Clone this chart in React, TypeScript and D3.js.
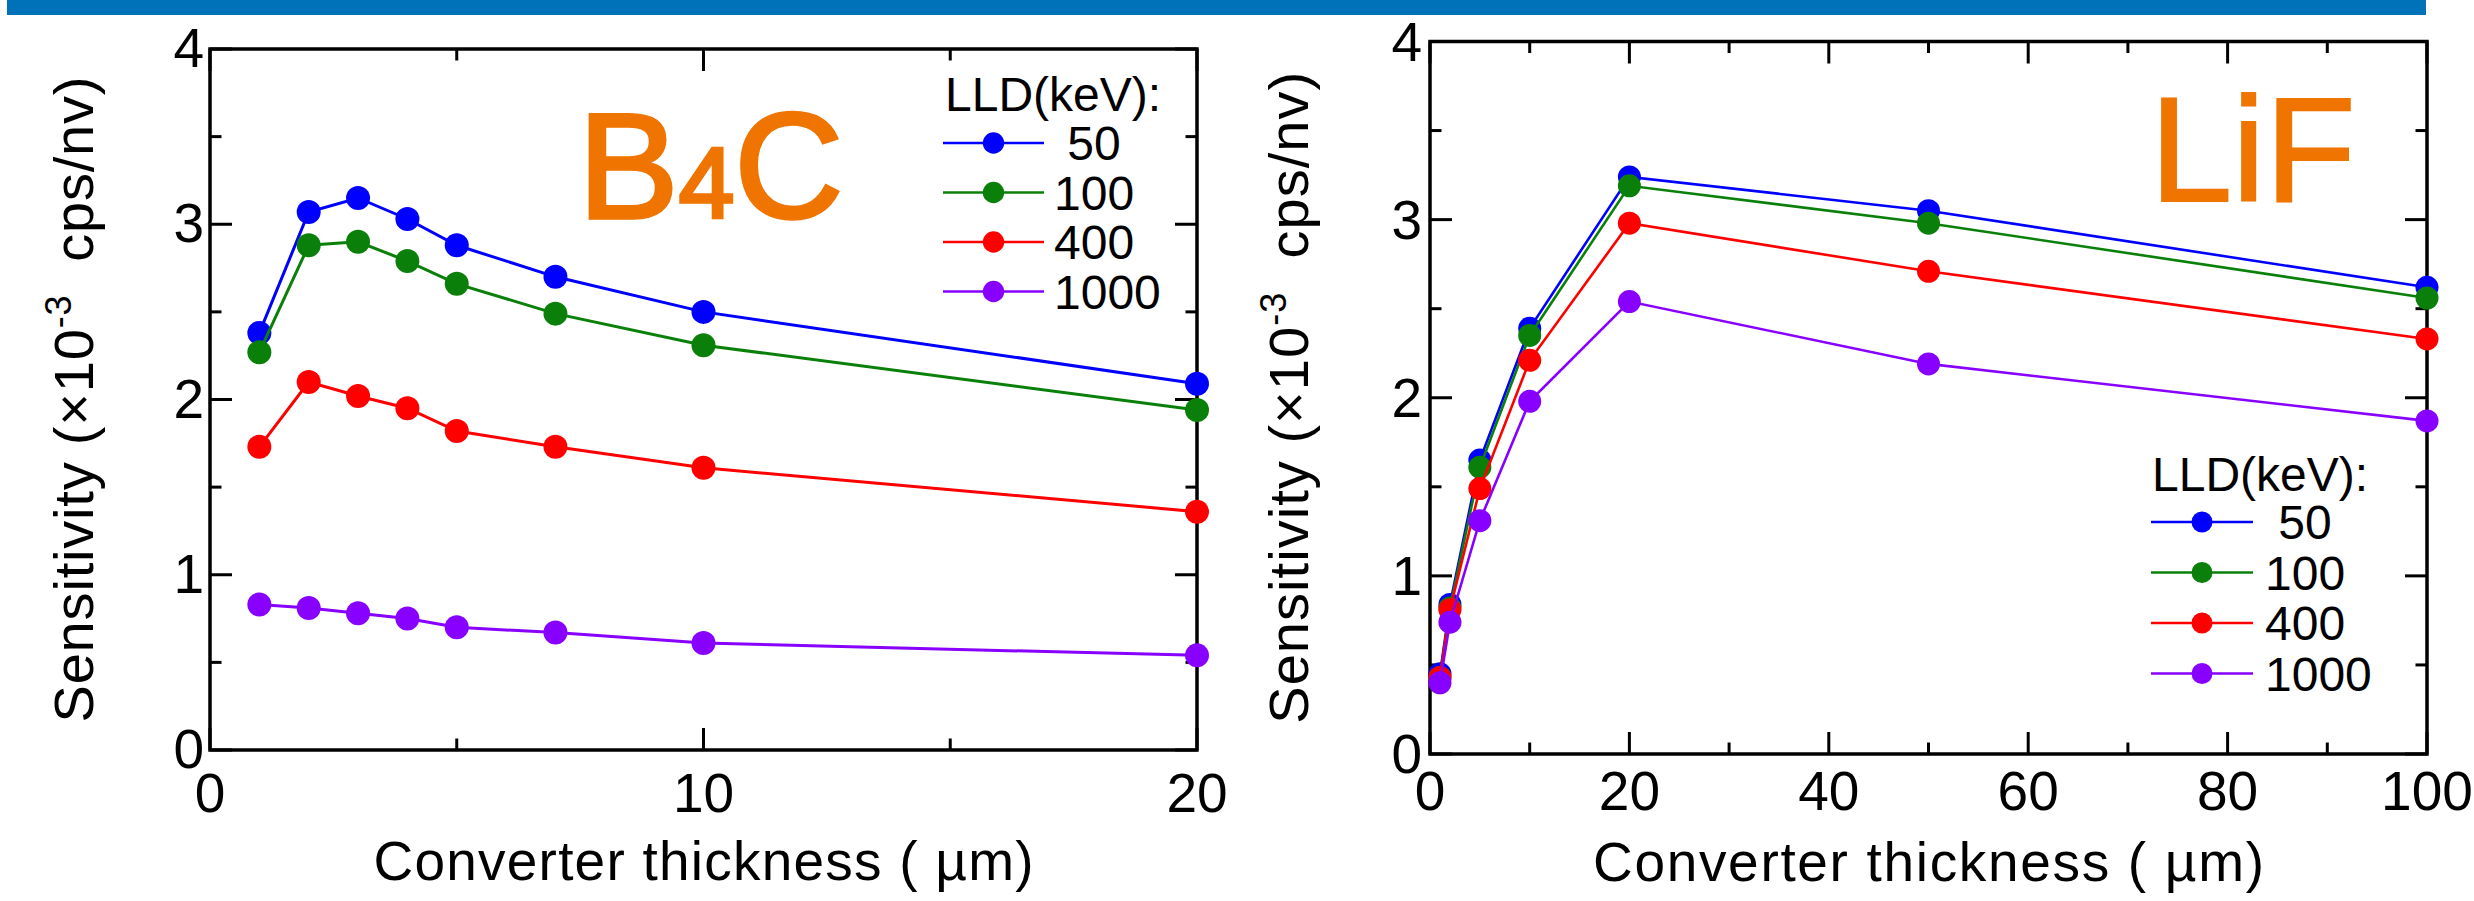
import React from "react";
import * as d3 from "d3";

// ---------- data ----------
const lldLabels = [" 50", "100", "400", "1000"];
const seriesColors = ["#0000FF", "#0A800A", "#FF0000", "#8800FF"];

const thicknessB4C = [1, 2, 3, 4, 5, 7, 10, 20];
const b4c50 = [2.38, 3.07, 3.15, 3.03, 2.88, 2.70, 2.50, 2.09];
const b4c100 = [2.27, 2.88, 2.90, 2.79, 2.66, 2.49, 2.31, 1.94];
const b4c400 = [1.73, 2.10, 2.02, 1.95, 1.82, 1.73, 1.61, 1.36];
const b4c1000 = [0.83, 0.81, 0.78, 0.75, 0.70, 0.67, 0.61, 0.54];

const thicknessLiF = [1, 2, 5, 10, 20, 50, 100];
const lif50 = [0.45, 0.84, 1.65, 2.39, 3.24, 3.05, 2.62];
const lif100 = [0.43, 0.82, 1.61, 2.35, 3.19, 2.98, 2.56];
const lif400 = [0.43, 0.81, 1.49, 2.21, 2.98, 2.71, 2.33];
const lif1000 = [0.40, 0.74, 1.31, 1.98, 2.54, 2.19, 1.87];

const yMajorTicks = [0, 1, 2, 3, 4];
const yMinorTicks = [0.5, 1.5, 2.5, 3.5];
const xMajorB4C = [0, 10, 20];
const xMinorB4C = [5, 15];
const xMajorLiF = [0, 20, 40, 60, 80, 100];
const xMinorLiF = [10, 30, 50, 70, 90];

const FONT = "'Liberation Sans', Arial, Helvetica, sans-serif";
const ORANGE = "#EF7400";

type PanelProps = {
  xDomain: [number, number];
  xRange: [number, number];
  yRange: [number, number];
  xs: number[];
  series: number[][];
  xMajor: number[];
  xMinor: number[];
  yLabelRight: number;
  yLabelDy: number;
  xLabelBaseline: number;
  xTitleBaseline: number;
  xTitleLength: number;
  yTitleX: number;
  yTitleLength: number;
  legend: { x: number; titleBaseline: number; rowY: number; rowGap: number; lineX1: number; lineX2: number; labelX: number; font: number; r: number };
  lineWidth: number;
  markerR: number;
};

function Panel(p: PanelProps) {
  const x = d3.scaleLinear().domain(p.xDomain).range(p.xRange);
  const y = d3.scaleLinear().domain([0, 4]).range(p.yRange);
  const [x0, x1] = p.xRange;
  const [yb, yt] = p.yRange;
  const line = d3
    .line<[number, number]>()
    .x((d) => x(d[0]))
    .y((d) => y(d[1]));
  const tickW = 3;
  const majorLen = 22;
  const minorLen = 11.5;
  const yMid = (yb + yt) / 2;
  const xMid = (x0 + x1) / 2;
  const lg = p.legend;
  return (
    <g>
      {/* ticks */}
      {p.xMajor.map((v, i) => (
        <g key={"xM" + i} stroke="#000" strokeWidth={tickW}>
          <line x1={x(v)} x2={x(v)} y1={yb} y2={yb - majorLen} />
          <line x1={x(v)} x2={x(v)} y1={yt} y2={yt + majorLen} />
        </g>
      ))}
      {p.xMinor.map((v, i) => (
        <g key={"xm" + i} stroke="#000" strokeWidth={tickW}>
          <line x1={x(v)} x2={x(v)} y1={yb} y2={yb - minorLen} />
          <line x1={x(v)} x2={x(v)} y1={yt} y2={yt + minorLen} />
        </g>
      ))}
      {yMajorTicks.map((v, i) => (
        <g key={"yM" + i} stroke="#000" strokeWidth={tickW}>
          <line x1={x0} x2={x0 + majorLen} y1={y(v)} y2={y(v)} />
          <line x1={x1} x2={x1 - majorLen} y1={y(v)} y2={y(v)} />
        </g>
      ))}
      {yMinorTicks.map((v, i) => (
        <g key={"ym" + i} stroke="#000" strokeWidth={tickW}>
          <line x1={x0} x2={x0 + minorLen} y1={y(v)} y2={y(v)} />
          <line x1={x1} x2={x1 - minorLen} y1={y(v)} y2={y(v)} />
        </g>
      ))}
      {/* frame */}
      <rect x={x0} y={yt} width={x1 - x0} height={yb - yt} fill="none" stroke="#000" strokeWidth={3.5} />
      {/* tick labels */}
      {p.xMajor.map((v, i) => (
        <text key={"xl" + i} x={x(v)} y={p.xLabelBaseline} textAnchor="middle" fontSize={55} fontFamily={FONT}>
          {String(v)}
        </text>
      ))}
      {yMajorTicks.map((v, i) => (
        <text key={"yl" + i} x={p.yLabelRight} y={y(v) + p.yLabelDy} textAnchor="end" fontSize={55} fontFamily={FONT}>
          {String(v)}
        </text>
      ))}
      {/* axis titles */}
      <text x={xMid} y={p.xTitleBaseline} textAnchor="middle" fontSize={55} fontFamily={FONT} textLength={p.xTitleLength} lengthAdjust="spacing">
        Converter thickness ( µm)
      </text>
      <text
        transform={`translate(${p.yTitleX},${yMid}) rotate(-90)`}
        textAnchor="middle"
        fontSize={56}
        fontFamily={FONT}
        textLength={p.yTitleLength}
        lengthAdjust="spacing"
      >
        Sensitivity (×10
        <tspan fontSize={36} dy={-22}>-3</tspan>
        <tspan dy={22} style={{ whiteSpace: "pre" }}>  cps/nv)</tspan>
      </text>
      {/* data */}
      {p.series.map((vals, si) => {
        const pts = p.xs.map((xv, i) => [xv, vals[i]] as [number, number]);
        return (
          <g key={"s" + si}>
            <path d={line(pts) || ""} fill="none" stroke={seriesColors[si]} strokeWidth={p.lineWidth} />
            {pts.map((d, i) => (
              <circle key={i} cx={x(d[0])} cy={y(d[1])} r={p.markerR} fill={seriesColors[si]} />
            ))}
          </g>
        );
      })}
      {/* legend */}
      <text x={lg.x} y={lg.titleBaseline} fontSize={lg.font} fontFamily={FONT}>
        LLD(keV):
      </text>
      {lldLabels.map((lab, i) => {
        const ry = lg.rowY + i * lg.rowGap;
        return (
          <g key={"lg" + i}>
            <line x1={lg.lineX1} x2={lg.lineX2} y1={ry} y2={ry} stroke={seriesColors[i]} strokeWidth={2.5} />
            <circle cx={(lg.lineX1 + lg.lineX2) / 2} cy={ry} r={lg.r} fill={seriesColors[i]} />
            <text x={lg.labelX} y={ry + 17} fontSize={lg.font} fontFamily={FONT} style={{ whiteSpace: "pre" }}>
              {lab}
            </text>
          </g>
        );
      })}
    </g>
  );
}

export default function App() {
  return (
    <svg
      width={2474}
      height={901}
      viewBox="0 0 2474 901"
      style={{ position: "absolute", left: 0, top: 0, background: "#fff" }}
    >
      <rect x={0} y={0} width={2474} height={901} fill="#fff" />
      <rect x={7} y={0} width={2419} height={15} fill="#0072B9" />

      <Panel
        xDomain={[0, 20]}
        xRange={[210, 1197]}
        yRange={[750, 49]}
        xs={thicknessB4C}
        series={[b4c50, b4c100, b4c400, b4c1000]}
        xMajor={xMajorB4C}
        xMinor={xMinorB4C}
        yLabelRight={204}
        yLabelDy={18}
        xLabelBaseline={812}
        xTitleBaseline={880}
        xTitleLength={660}
        yTitleX={93}
        yTitleLength={646}
        legend={{ x: 945, titleBaseline: 111, rowY: 143, rowGap: 49.5, lineX1: 943, lineX2: 1044, labelX: 1054, font: 48, r: 10.7 }}
        lineWidth={3}
        markerR={12}
      />
      <Panel
        xDomain={[0, 100]}
        xRange={[1430, 2427]}
        yRange={[754, 41.5]}
        xs={thicknessLiF}
        series={[lif50, lif100, lif400, lif1000]}
        xMajor={xMajorLiF}
        xMinor={xMinorLiF}
        yLabelRight={1422}
        yLabelDy={19}
        xLabelBaseline={810}
        xTitleBaseline={881}
        xTitleLength={671}
        yTitleX={1308}
        yTitleLength={652}
        legend={{ x: 2152, titleBaseline: 491, rowY: 522, rowGap: 50.5, lineX1: 2151, lineX2: 2253, labelX: 2265, font: 48, r: 10.5 }}
        lineWidth={2.6}
        markerR={11.5}
      />

      {/* material labels */}
      <text x={578} y={218} fontSize={151} fontFamily={FONT} fill={ORANGE} stroke={ORANGE} strokeWidth={3.5}>
        B<tspan fontSize={100}>4</tspan>C
      </text>
      <text x={2150} y={201} fontSize={148} fontFamily={FONT} fill={ORANGE} stroke={ORANGE} strokeWidth={2}>
        LiF
      </text>
    </svg>
  );
}
